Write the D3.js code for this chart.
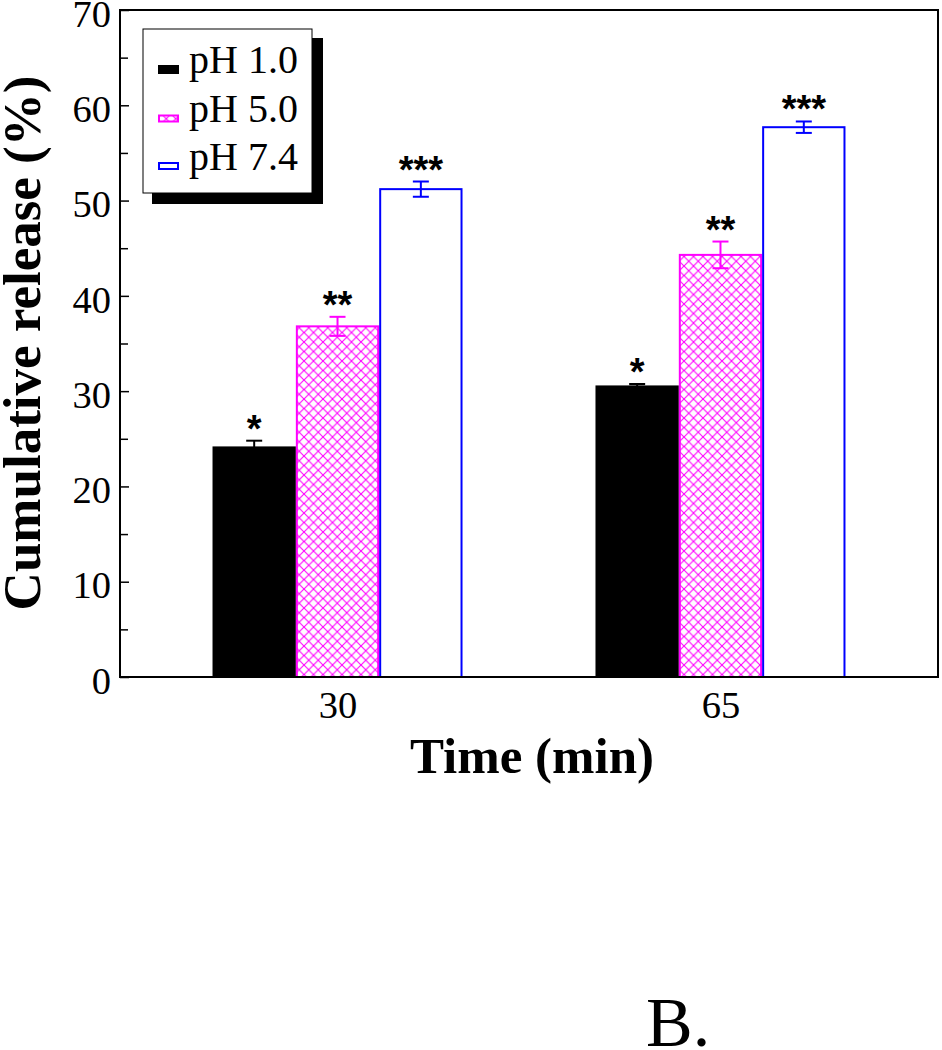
<!DOCTYPE html>
<html><head><meta charset="utf-8">
<script src="https://cdn.jsdelivr.net/npm/d3@7"></script>
<style>body{margin:0;background:#fff}svg{display:block}</style>
</head><body>
<svg id="c" width="942" height="1050"></svg>
<script>
const categories = ["30", "65"];
const series = ["pH 1.0", "pH 5.0", "pH 7.4"];
const values = {
  "pH 1.0": [24.2, 30.6],
  "pH 5.0": [36.8, 44.3],
  "pH 7.4": [51.2, 57.7]
};
const errors = {
  "pH 1.0": [0.6, 0.15],
  "pH 5.0": [1.0, 1.4],
  "pH 7.4": [0.8, 0.6]
};
const stars = {"pH 1.0": "*", "pH 5.0": "**", "pH 7.4": "***"};
const yTicks = [0, 10, 20, 30, 40, 50, 60, 70];
const yMinor = [5, 15, 25, 35, 45, 55, 65];
const colors = {"pH 1.0": "#000000", "pH 5.0": "#ff00ff", "pH 7.4": "#0000ff"};

const svg = d3.select("#c");
const L = 120, R = 938, T = 10, B = 677;
const y = d3.scaleLinear().domain([0, 70]).range([B, T]);
const x = d3.scalePoint().domain(categories).range([L, R]).padding(0.568);
const xs = d3.scaleBand().domain(series).range([-125, 125]).padding(0);

const defs = svg.append("defs");
const pat = defs.append("pattern").attr("id", "hatch").attr("patternUnits", "userSpaceOnUse")
  .attr("width", 9.5).attr("height", 9.5);
pat.append("rect").attr("width", 9.5).attr("height", 9.5).attr("fill", "#fff");
pat.append("path").attr("d", "M0,0 L9.5,9.5 M9.5,0 L0,9.5").attr("stroke", "#ff00ff").attr("stroke-width", 1.1);

const serif = "'Liberation Serif', 'Times New Roman', serif";

// bars
series.forEach(s => {
  categories.forEach((c, i) => {
    const x0 = x(c) + xs(s), w = xs.bandwidth();
    const v = values[s][i];
    const g = svg.append("g");
    if (s === "pH 1.0") {
      g.append("rect").attr("x", x0).attr("y", y(v)).attr("width", w).attr("height", B - y(v)).attr("fill", "#000");
    } else if (s === "pH 5.0") {
      g.append("rect").attr("x", x0 + 1).attr("y", y(v)).attr("width", w - 2).attr("height", B - y(v))
        .attr("fill", "url(#hatch)").attr("stroke", "#ff00ff").attr("stroke-width", 2);
    } else {
      g.append("rect").attr("x", x0 + 1).attr("y", y(v)).attr("width", w - 2).attr("height", B - y(v))
        .attr("fill", "#fff").attr("stroke", "#0000ff").attr("stroke-width", 2);
    }
    const cx = x0 + w / 2, e = errors[s][i];
    const col = colors[s];
    g.append("line").attr("x1", cx).attr("x2", cx).attr("y1", y(v + e)).attr("y2", y(v - e)).attr("stroke", col).attr("stroke-width", 2);
    g.append("line").attr("x1", cx - 8).attr("x2", cx + 8).attr("y1", y(v + e)).attr("y2", y(v + e)).attr("stroke", col).attr("stroke-width", 2);
    g.append("line").attr("x1", cx - 8).attr("x2", cx + 8).attr("y1", y(v - e)).attr("y2", y(v - e)).attr("stroke", col).attr("stroke-width", 2);
    g.append("text").attr("x", cx).attr("y", y(v + e) + 1).attr("text-anchor", "middle")
      .attr("font-family", "'Liberation Sans', Arial, sans-serif").attr("font-weight", "bold").attr("font-size", 38)
      .text(stars[s]);
  });
});

// frame
svg.append("rect").attr("x", L).attr("y", T).attr("width", R - L).attr("height", B - T)
  .attr("fill", "none").attr("stroke", "#000").attr("stroke-width", 2);

// y axis
const yAxis = d3.axisLeft(y).tickValues(yTicks).tickSize(-9).tickPadding(9).tickFormat(d3.format("d"));
const ya = svg.append("g").attr("transform", `translate(${L},0)`).call(yAxis);
ya.select(".domain").remove();
ya.selectAll("line").attr("stroke-width", 1.5);
ya.selectAll("text").attr("font-family", serif).attr("font-size", 38.5).attr("fill", "#000").attr("dy", "0.42em");
const yMinorAxis = d3.axisLeft(y).tickValues(yMinor).tickSize(-8).tickFormat("");
const ym = svg.append("g").attr("transform", `translate(${L},0)`).call(yMinorAxis);
ym.select(".domain").remove();
ym.selectAll("line").attr("stroke-width", 1.5);

// x axis labels
const xAxis = d3.axisBottom(x).tickSize(0).tickPadding(14);
const xa = svg.append("g").attr("transform", `translate(0,${B})`).call(xAxis);
xa.select(".domain").remove();
xa.selectAll("text").attr("font-family", serif).attr("font-size", 38.5).attr("fill", "#000");

// axis titles
svg.append("text").attr("x", 532).attr("y", 773).attr("text-anchor", "middle")
  .attr("font-family", serif).attr("font-weight", "bold").attr("font-size", 51).text("Time (min)");
svg.append("text").attr("transform", `translate(40,343) rotate(-90)`).attr("text-anchor", "middle")
  .attr("font-family", serif).attr("font-weight", "bold").attr("font-size", 53).text("Cumulative release (%)");

// legend
const lg = svg.append("g");
lg.append("rect").attr("x", 152).attr("y", 38).attr("width", 171).attr("height", 166).attr("fill", "#000");
lg.append("rect").attr("x", 143).attr("y", 29).attr("width", 169).attr("height", 164).attr("fill", "#fff").attr("stroke", "#000").attr("stroke-width", 1);
series.forEach((s, i) => {
  const by = 73 + i * 48.5;
  if (s === "pH 1.0") {
    lg.append("rect").attr("x", 158).attr("y", by - 8).attr("width", 21).attr("height", 9).attr("fill", "#000");
  } else if (s === "pH 5.0") {
    lg.append("rect").attr("x", 159).attr("y", by - 6).attr("width", 19).attr("height", 6).attr("fill", "url(#hatch)").attr("stroke", "#ff00ff").attr("stroke-width", 2);
  } else {
    lg.append("rect").attr("x", 159).attr("y", by - 7).attr("width", 19).attr("height", 6).attr("fill", "#fff").attr("stroke", "#0000ff").attr("stroke-width", 2);
  }
  lg.append("text").attr("x", 189).attr("y", by).attr("font-family", serif).attr("font-size", 40).text(s);
});

// panel label
svg.append("text").attr("x", 646).attr("y", 1046).attr("font-family", serif).attr("font-size", 70).text("B.");
</script>
</body></html>
